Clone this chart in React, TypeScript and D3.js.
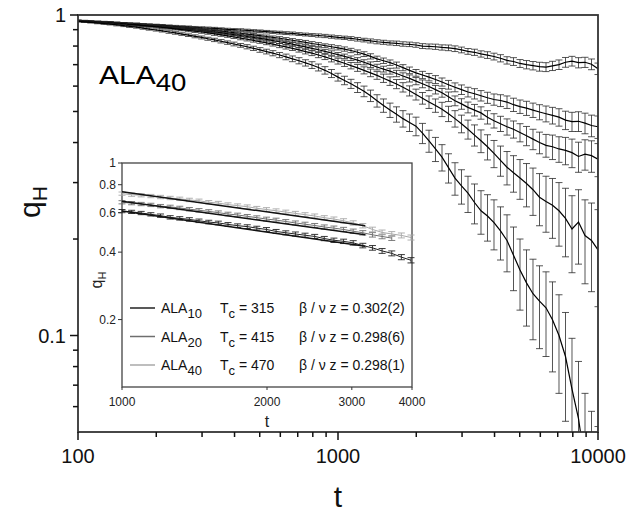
import * as d3 from 'd3';

// main panel: q_H(t) for five temperatures, sampled every 0.025 in log10(t)
const T_MAIN = [100, 106, 112, 119, 126, 133, 141, 150, 158, 168, 178, 188, 200, 211, 224, 237, 251, 266, 282, 299,
    316, 335, 355, 376, 398, 422, 447, 473, 501, 531, 562, 596, 631, 668, 708, 750, 794, 841, 891, 944,
    1000, 1059, 1122, 1189, 1259, 1334, 1413, 1496, 1585, 1679, 1778, 1884, 1995, 2113, 2239, 2371, 2512, 2661, 2818, 2985,
    3162, 3350, 3548, 3758, 3981, 4217, 4467, 4732, 5012, 5309, 5623, 5957, 6310, 6683, 7079, 7499, 7943, 8414, 8913, 9441, 10000];

const Q1 = [0.960, 0.958, 0.955, 0.952, 0.950, 0.948, 0.945, 0.942, 0.940, 0.938, 0.935, 0.932, 0.930, 0.928, 0.925, 0.922, 0.920, 0.918, 0.915, 0.912,
    0.910, 0.908, 0.905, 0.902, 0.900, 0.898, 0.895, 0.892, 0.890, 0.887, 0.884, 0.881, 0.878, 0.876, 0.872, 0.869, 0.866, 0.863, 0.860, 0.856,
    0.852, 0.849, 0.845, 0.840, 0.835, 0.830, 0.825, 0.822, 0.818, 0.816, 0.812, 0.810, 0.806, 0.800, 0.798, 0.796, 0.792, 0.790, 0.785, 0.778,
    0.770, 0.765, 0.756, 0.750, 0.742, 0.733, 0.722, 0.716, 0.706, 0.700, 0.695, 0.690, 0.688, 0.694, 0.700, 0.712, 0.718, 0.710, 0.712, 0.702, 0.680];
const Q2 = [0.960, 0.958, 0.955, 0.952, 0.950, 0.948, 0.945, 0.942, 0.940, 0.937, 0.934, 0.931, 0.928, 0.925, 0.921, 0.918, 0.914, 0.910, 0.906, 0.902,
    0.898, 0.894, 0.890, 0.886, 0.881, 0.877, 0.872, 0.867, 0.862, 0.857, 0.851, 0.846, 0.840, 0.834, 0.828, 0.822, 0.815, 0.809, 0.802, 0.796,
    0.790, 0.783, 0.775, 0.765, 0.755, 0.743, 0.730, 0.720, 0.710, 0.698, 0.685, 0.672, 0.660, 0.650, 0.640, 0.629, 0.618, 0.606, 0.595, 0.585,
    0.575, 0.568, 0.560, 0.552, 0.545, 0.541, 0.535, 0.525, 0.518, 0.512, 0.505, 0.498, 0.492, 0.486, 0.480, 0.470, 0.465, 0.466, 0.460, 0.452, 0.448];
const Q3 = [0.958, 0.956, 0.953, 0.950, 0.948, 0.945, 0.942, 0.939, 0.936, 0.933, 0.930, 0.927, 0.923, 0.919, 0.915, 0.911, 0.907, 0.903, 0.898, 0.894,
    0.889, 0.884, 0.879, 0.874, 0.868, 0.863, 0.857, 0.851, 0.845, 0.839, 0.832, 0.825, 0.818, 0.811, 0.803, 0.795, 0.787, 0.779, 0.770, 0.761,
    0.752, 0.743, 0.733, 0.723, 0.712, 0.700, 0.688, 0.678, 0.668, 0.657, 0.645, 0.634, 0.622, 0.610, 0.598, 0.585, 0.572, 0.556, 0.540, 0.528,
    0.515, 0.505, 0.495, 0.480, 0.468, 0.458, 0.448, 0.440, 0.430, 0.420, 0.410, 0.400, 0.392, 0.388, 0.382, 0.378, 0.372, 0.362, 0.368, 0.364, 0.355];
const Q4 = [0.958, 0.956, 0.953, 0.950, 0.947, 0.944, 0.941, 0.938, 0.934, 0.931, 0.927, 0.923, 0.919, 0.915, 0.910, 0.905, 0.900, 0.895, 0.890, 0.885,
    0.879, 0.873, 0.867, 0.861, 0.854, 0.847, 0.840, 0.833, 0.826, 0.819, 0.811, 0.803, 0.795, 0.787, 0.778, 0.769, 0.760, 0.750, 0.740, 0.729,
    0.718, 0.707, 0.695, 0.684, 0.672, 0.660, 0.648, 0.635, 0.622, 0.609, 0.595, 0.580, 0.565, 0.550, 0.535, 0.522, 0.508, 0.492, 0.475, 0.458,
    0.440, 0.422, 0.405, 0.388, 0.370, 0.352, 0.335, 0.322, 0.310, 0.298, 0.285, 0.270, 0.262, 0.255, 0.245, 0.232, 0.215, 0.226, 0.205, 0.198, 0.185];
const Q5 = [0.955, 0.952, 0.948, 0.944, 0.940, 0.936, 0.931, 0.926, 0.921, 0.916, 0.910, 0.904, 0.898, 0.892, 0.885, 0.879, 0.872, 0.865, 0.858, 0.851,
    0.843, 0.836, 0.828, 0.820, 0.812, 0.804, 0.796, 0.787, 0.778, 0.769, 0.760, 0.750, 0.740, 0.730, 0.720, 0.709, 0.698, 0.686, 0.672, 0.657,
    0.640, 0.625, 0.610, 0.594, 0.578, 0.560, 0.540, 0.522, 0.505, 0.490, 0.475, 0.462, 0.450, 0.428, 0.405, 0.382, 0.360, 0.334, 0.310, 0.293,
    0.278, 0.260, 0.245, 0.236, 0.225, 0.212, 0.198, 0.178, 0.160, 0.146, 0.135, 0.128, 0.122, 0.112, 0.100, 0.086, 0.068, 0.055, 0.040, 0.034, 0.030];

const E1 = [0.004, 0.004, 0.004, 0.004, 0.005, 0.005, 0.005, 0.005, 0.005, 0.005, 0.005, 0.006, 0.006, 0.006, 0.006, 0.006, 0.006, 0.006, 0.006, 0.007,
    0.007, 0.007, 0.007, 0.007, 0.007, 0.008, 0.008, 0.008, 0.008, 0.008, 0.008, 0.009, 0.009, 0.009, 0.009, 0.009, 0.009, 0.010, 0.010, 0.010,
    0.010, 0.010, 0.011, 0.011, 0.011, 0.012, 0.012, 0.012, 0.012, 0.013, 0.013, 0.013, 0.013, 0.014, 0.014, 0.015, 0.015, 0.016, 0.016, 0.016,
    0.016, 0.017, 0.017, 0.018, 0.018, 0.019, 0.019, 0.020, 0.020, 0.021, 0.021, 0.022, 0.022, 0.023, 0.024, 0.025, 0.025, 0.026, 0.026, 0.027, 0.028];
const E2 = [0.004, 0.004, 0.004, 0.005, 0.005, 0.005, 0.005, 0.005, 0.005, 0.006, 0.006, 0.006, 0.006, 0.006, 0.006, 0.007, 0.007, 0.007, 0.007, 0.007,
    0.007, 0.008, 0.008, 0.008, 0.008, 0.008, 0.008, 0.009, 0.009, 0.009, 0.009, 0.010, 0.010, 0.010, 0.010, 0.011, 0.011, 0.011, 0.011, 0.012,
    0.012, 0.012, 0.012, 0.013, 0.013, 0.014, 0.014, 0.014, 0.014, 0.015, 0.015, 0.016, 0.016, 0.017, 0.017, 0.018, 0.018, 0.019, 0.019, 0.020,
    0.020, 0.021, 0.021, 0.022, 0.022, 0.023, 0.024, 0.025, 0.025, 0.026, 0.026, 0.027, 0.028, 0.029, 0.030, 0.031, 0.032, 0.033, 0.034, 0.035, 0.036];
const E3 = [0.004, 0.004, 0.004, 0.005, 0.005, 0.005, 0.005, 0.005, 0.005, 0.006, 0.006, 0.006, 0.006, 0.006, 0.006, 0.007, 0.007, 0.007, 0.007, 0.007,
    0.007, 0.008, 0.008, 0.008, 0.008, 0.008, 0.008, 0.009, 0.009, 0.009, 0.009, 0.010, 0.010, 0.010, 0.010, 0.011, 0.011, 0.011, 0.011, 0.012,
    0.012, 0.012, 0.012, 0.013, 0.013, 0.014, 0.014, 0.014, 0.014, 0.015, 0.015, 0.016, 0.016, 0.017, 0.017, 0.018, 0.018, 0.019, 0.019, 0.020,
    0.020, 0.021, 0.022, 0.023, 0.024, 0.025, 0.026, 0.027, 0.028, 0.029, 0.030, 0.031, 0.032, 0.034, 0.035, 0.037, 0.038, 0.039, 0.040, 0.041, 0.042];
const E4 = [0.004, 0.004, 0.004, 0.005, 0.005, 0.005, 0.005, 0.005, 0.006, 0.006, 0.006, 0.006, 0.006, 0.007, 0.007, 0.007, 0.007, 0.008, 0.008, 0.008,
    0.008, 0.009, 0.009, 0.009, 0.009, 0.010, 0.010, 0.010, 0.010, 0.011, 0.011, 0.012, 0.012, 0.012, 0.012, 0.013, 0.013, 0.014, 0.014, 0.015,
    0.015, 0.016, 0.016, 0.017, 0.017, 0.018, 0.018, 0.019, 0.019, 0.020, 0.020, 0.021, 0.022, 0.023, 0.024, 0.025, 0.026, 0.027, 0.028, 0.029,
    0.030, 0.032, 0.033, 0.035, 0.036, 0.038, 0.040, 0.042, 0.044, 0.046, 0.048, 0.050, 0.052, 0.054, 0.055, 0.056, 0.058, 0.059, 0.060, 0.061, 0.062];
const E5 = [0.004, 0.004, 0.004, 0.005, 0.005, 0.005, 0.006, 0.006, 0.006, 0.006, 0.007, 0.007, 0.007, 0.007, 0.008, 0.008, 0.008, 0.008, 0.009, 0.009,
    0.009, 0.010, 0.010, 0.010, 0.011, 0.011, 0.012, 0.012, 0.013, 0.013, 0.014, 0.014, 0.015, 0.015, 0.016, 0.016, 0.017, 0.017, 0.018, 0.019,
    0.018, 0.019, 0.020, 0.021, 0.022, 0.023, 0.024, 0.025, 0.026, 0.027, 0.028, 0.029, 0.030, 0.031, 0.032, 0.033, 0.034, 0.035, 0.036, 0.036,
    0.036, 0.037, 0.038, 0.039, 0.040, 0.040, 0.040, 0.040, 0.040, 0.039, 0.038, 0.037, 0.036, 0.035, 0.034, 0.032, 0.030, 0.028, 0.026, 0.024, 0.022];

const MAIN_Q = [Q1, Q2, Q3, Q4, Q5];
const MAIN_E = [E1, E2, E3, E4, E5];

const MAIN_X_MAJOR = [100, 1000, 10000];
const MAIN_X_MINOR = [200, 300, 400, 500, 600, 700, 800, 900, 2000, 3000, 4000, 5000, 6000, 7000, 8000, 9000];
const MAIN_Y_MAJOR = [1, 0.1];
const MAIN_Y_MINOR = [0.9, 0.8, 0.7, 0.6, 0.5, 0.4, 0.3, 0.2, 0.09, 0.08, 0.07, 0.06];

// inset: t = 1000..4000, with power-law fits
const T_INSET = [1000, 1047, 1096, 1148, 1202, 1259, 1318, 1380, 1445, 1514, 1585, 1660, 1738, 1820, 1905, 1995,
    2089, 2188, 2291, 2399, 2512, 2630, 2754, 2884, 3020, 3162, 3311, 3467, 3631, 3802, 3981];
const IN_ALA10 = [0.610, 0.605, 0.598, 0.590, 0.582, 0.572, 0.566, 0.560, 0.552, 0.545, 0.540, 0.532, 0.525, 0.520, 0.512, 0.505,
    0.495, 0.488, 0.482, 0.476, 0.470, 0.460, 0.452, 0.447, 0.440, 0.428, 0.418, 0.405, 0.395, 0.380, 0.368];
const IN_ALA20 = [0.668, 0.662, 0.656, 0.650, 0.642, 0.637, 0.630, 0.622, 0.615, 0.608, 0.600, 0.592, 0.586, 0.578, 0.570, 0.562,
    0.556, 0.548, 0.540, 0.533, 0.526, 0.518, 0.512, 0.505, 0.496, 0.488, 0.478, 0.470, 0.462];
const IN_ALA40 = [0.730, 0.722, 0.718, 0.712, 0.705, 0.698, 0.692, 0.684, 0.678, 0.668, 0.662, 0.652, 0.645, 0.638, 0.628, 0.620,
    0.612, 0.604, 0.596, 0.588, 0.580, 0.570, 0.562, 0.552, 0.540, 0.525, 0.505, 0.490, 0.482, 0.475, 0.465];
const IN_ERR = [0.010, 0.011, 0.012];
const FIT_T = [1000, 3200];
const FIT_ALA10 = [0.610, 0.425];
const FIT_ALA20 = [0.675, 0.478];
const FIT_ALA40 = [0.745, 0.525];

const LEGEND_SIZE = ['10', '20', '40'];
const LEGEND_TC = [315, 415, 470];
const LEGEND_EXP = ['0.302(2)', '0.298(6)', '0.298(1)'];
const SERIES_COLORS = ['#222', '#6e6e6e', '#a8a8a8'];

const INSET_X_TICKS = [1000, 2000, 3000, 4000];
const INSET_Y_TICKS = [1, 0.8, 0.6, 0.4, 0.2];

const FONT = '"Liberation Sans", Arial, Helvetica, sans-serif';

const M = { left: 78, right: 598, top: 15, bottom: 432 };
const IN = { left: 122, right: 412, top: 163, bottom: 387 };

function ErrorBars({ ts, qs, es, x, y, cap, color, width }: any) {
    return (
        <g stroke={color} strokeWidth={width} fill="none">
            {qs.map((q: number, i: number) => {
                const e = es[i];
                const lo = Math.max(q - e, 0.001);
                const cx = x(ts[i]);
                const y1 = y(q + e);
                const y2 = y(lo);
                return (
                    <g key={i}>
                        <line x1={cx} x2={cx} y1={y1} y2={y2} />
                        <line x1={cx - cap} x2={cx + cap} y1={y1} y2={y1} />
                        <line x1={cx - cap} x2={cx + cap} y1={y2} y2={y2} />
                    </g>
                );
            })}
        </g>
    );
}

export default function App() {
    const xMain = d3.scaleLog().domain([100, 10000]).range([M.left, M.right]);
    const yMain = d3.scaleLog().domain([0.05, 1]).range([M.bottom, M.top]);
    const xIn = d3.scaleLog().domain([1000, 4000]).range([IN.left, IN.right]);
    const yIn = d3.scaleLog().domain([0.1, 1]).range([IN.bottom, IN.top]);

    const mainLine = (qs: number[]) =>
        d3.line<number>().x((_, i) => xMain(T_MAIN[i])).y((q) => yMain(Math.max(q, 0.01)))(qs) || '';
    const inLine = (ts: number[], qs: number[]) =>
        d3.line<number>().x((_, i) => xIn(ts[i])).y((q) => yIn(q))(qs) || '';

    const insetSeries = [IN_ALA10, IN_ALA20, IN_ALA40];
    const fits = [FIT_ALA10, FIT_ALA20, FIT_ALA40];

    return (
        <svg width={644} height={512} style={{ position: 'absolute', left: 0, top: 0, background: '#fff' }} fontFamily={FONT}>
            <defs>
                <clipPath id="mainClip">
                    <rect x={M.left} y={M.top} width={M.right - M.left} height={M.bottom - M.top} />
                </clipPath>
            </defs>

            {/* main curves */}
            <g clipPath="url(#mainClip)">
                {MAIN_Q.map((qs, k) => (
                    <g key={k}>
                        <ErrorBars ts={T_MAIN} qs={qs} es={MAIN_E[k]} x={xMain} y={yMain} cap={3.5} color="#2a2a2a" width={0.8} />
                        <path d={mainLine(qs)} fill="none" stroke="#000" strokeWidth={1.2} />
                    </g>
                ))}
            </g>

            {/* main frame */}
            <rect x={M.left} y={M.top} width={M.right - M.left} height={M.bottom - M.top} fill="none" stroke="#333" strokeWidth={1.8} />

            {/* main ticks */}
            <g stroke="#111" strokeWidth={1.5}>
                {MAIN_X_MAJOR.map((t) => (
                    <line key={t} x1={xMain(t)} x2={xMain(t)} y1={M.bottom} y2={M.bottom + 8} />
                ))}
                {MAIN_X_MINOR.map((t) => (
                    <line key={t} x1={xMain(t)} x2={xMain(t)} y1={M.bottom} y2={M.bottom + 5} />
                ))}
                {MAIN_Y_MAJOR.map((q) => (
                    <line key={q} x1={M.left - 8} x2={M.left} y1={yMain(q)} y2={yMain(q)} />
                ))}
                {MAIN_Y_MINOR.map((q) => (
                    <line key={q} x1={M.left - 5} x2={M.left} y1={yMain(q)} y2={yMain(q)} />
                ))}
            </g>
            <g fontSize={20} fill="#111">
                {MAIN_X_MAJOR.map((t) => (
                    <text key={t} x={xMain(t)} y={M.bottom + 31} textAnchor="middle">
                        {t}
                    </text>
                ))}
                {MAIN_Y_MAJOR.map((q) => (
                    <text key={q} x={M.left - 12} y={yMain(q) + 7} textAnchor="end">
                        {q}
                    </text>
                ))}
            </g>
            <text x={xMain(1000)} y={507} fontSize={30} textAnchor="middle" fill="#111">
                t
            </text>
            <text transform="translate(40,202) rotate(-90)" fontSize={30} textAnchor="middle" fill="#111">
                q<tspan fontSize={21} dy={7}>H</tspan>
            </text>
            <text transform="translate(99,84) scale(1.2,1)" fontSize={25} fill="#000">
                ALA<tspan fontSize={23} dy={7}>40</tspan>
            </text>

            {/* inset */}
            <rect x={IN.left} y={IN.top} width={IN.right - IN.left} height={IN.bottom - IN.top} fill="#fff" stroke="#444" strokeWidth={1.3} />
            {insetSeries.map((qs, k) => (
                <g key={k}>
                    <ErrorBars ts={T_INSET} qs={qs} es={qs.map(() => IN_ERR[k])} x={xIn} y={yIn} cap={3.5} color={SERIES_COLORS[k]} width={0.9} />
                    <path d={inLine(T_INSET, qs)} fill="none" stroke={SERIES_COLORS[k]} strokeWidth={1} />
                </g>
            ))}
            {fits.map((f, k) => (
                <path key={k} d={inLine(FIT_T, f)} fill="none" stroke="#111" strokeWidth={1.5} />
            ))}

            <g stroke="#333" strokeWidth={1}>
                {INSET_Y_TICKS.map((q) => (
                    <line key={q} x1={IN.left - 4} x2={IN.left} y1={yIn(q)} y2={yIn(q)} />
                ))}
                {INSET_X_TICKS.map((t) => (
                    <line key={t} x1={xIn(t)} x2={xIn(t)} y1={IN.bottom} y2={IN.bottom + 3} />
                ))}
            </g>
            <g fontSize={12} fill="#222">
                {INSET_Y_TICKS.map((q) => (
                    <text key={q} x={IN.left - 6} y={yIn(q) + 4} textAnchor="end">
                        {q}
                    </text>
                ))}
                {INSET_X_TICKS.map((t) => (
                    <text key={t} x={xIn(t)} y={IN.bottom + 19} textAnchor="middle">
                        {t}
                    </text>
                ))}
            </g>
            <text x={xIn(2000)} y={427} fontSize={16} textAnchor="middle" fill="#222">
                t
            </text>
            <text transform="translate(102,280) rotate(-90)" fontSize={16} textAnchor="middle" fill="#222">
                q<tspan fontSize={11} dy={4}>H</tspan>
            </text>

            {/* legend */}
            {LEGEND_SIZE.map((s, k) => {
                const yy = 308 + k * 28.5;
                return (
                    <g key={s} fontSize={14} fill="#111">
                        <line x1={130} x2={155} y1={yy} y2={yy} stroke={SERIES_COLORS[k]} strokeWidth={1.5} />
                        <text x={161} y={yy + 5}>
                            ALA<tspan fontSize={13} dy={5}>{s}</tspan>
                        </text>
                        <text x={220} y={yy + 5}>
                            T<tspan fontSize={13} dy={5}>c</tspan>
                            <tspan dy={-5}> = {LEGEND_TC[k]}</tspan>
                        </text>
                        <text x={299} y={yy + 5}>
                            β / ν z = {LEGEND_EXP[k]}
                        </text>
                    </g>
                );
            })}
        </svg>
    );
}
